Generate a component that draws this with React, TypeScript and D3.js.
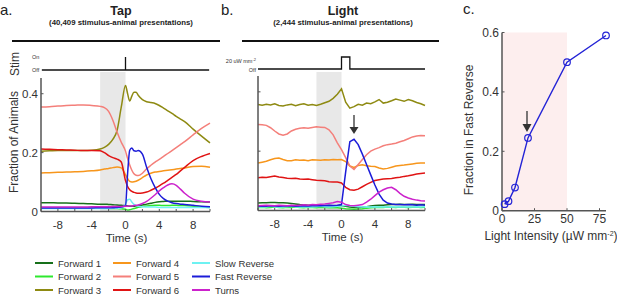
import React from "react";
import * as d3 from "d3";

// ---------- DATA ----------
const seriesNames = ["Forward 1", "Forward 2", "Forward 3", "Forward 4", "Forward 5", "Forward 6", "Slow Reverse", "Fast Reverse", "Turns"];
const seriesColors = ["#17701a", "#2ee82e", "#8e8a12", "#f7961c", "#f47f7a", "#e01414", "#6ef2f2", "#1c1cd8", "#cc22cc"];

const xTicksTime = [-10, -8, -6, -4, -2, 0, 2, 4, 6, 8, 10];
const xLabelsTime = [-8, -4, 0, 4, 8];
const yTicksA = [0, 0.2, 0.4];

// Panel a (Tap)
const tA = [-10, -9, -8, -7, -6, -5, -4, -3, -2.5, -2, -1.5, -1, -0.5, 0, 0.25, 0.5, 0.75, 1, 1.25, 1.5, 2, 2.5, 3, 3.5, 4, 4.5, 5, 5.5, 6, 6.5, 7, 8, 9, 10];
const aFwd1 = [0.03, 0.03, 0.029, 0.029, 0.028, 0.027, 0.026, 0.025, 0.025, 0.024, 0.023, 0.022, 0.021, 0.02, 0.019, 0.018, 0.018, 0.018, 0.019, 0.02, 0.022, 0.025, 0.028, 0.031, 0.033, 0.034, 0.035, 0.035, 0.035, 0.035, 0.035, 0.034, 0.033, 0.032];
const aFwd2 = [0.012, 0.012, 0.012, 0.012, 0.012, 0.012, 0.011, 0.011, 0.011, 0.011, 0.01, 0.01, 0.009, 0.008, 0.005, 0.006, 0.008, 0.01, 0.012, 0.014, 0.017, 0.019, 0.02, 0.021, 0.021, 0.02, 0.02, 0.021, 0.021, 0.02, 0.02, 0.018, 0.015, 0.014];
const aFwd3 = [0.205, 0.206, 0.207, 0.207, 0.207, 0.207, 0.208, 0.212, 0.218, 0.228, 0.245, 0.275, 0.355, 0.428, 0.4, 0.375, 0.392, 0.405, 0.405, 0.395, 0.38, 0.373, 0.37, 0.367, 0.36, 0.351, 0.342, 0.333, 0.323, 0.314, 0.305, 0.28, 0.256, 0.233];
const aFwd4 = [0.131, 0.132, 0.133, 0.134, 0.135, 0.136, 0.138, 0.141, 0.144, 0.146, 0.149, 0.151, 0.148, 0.125, 0.112, 0.102, 0.1, 0.101, 0.103, 0.106, 0.115, 0.124, 0.13, 0.134, 0.136, 0.138, 0.14, 0.142, 0.144, 0.146, 0.148, 0.153, 0.154, 0.15];
const aFwd5 = [0.355, 0.356, 0.358, 0.36, 0.361, 0.362, 0.36, 0.357, 0.353, 0.34, 0.31, 0.27, 0.235, 0.205, 0.18, 0.158, 0.14, 0.128, 0.123, 0.122, 0.13, 0.145, 0.157, 0.168, 0.177, 0.187, 0.197, 0.207, 0.217, 0.227, 0.237, 0.26, 0.282, 0.3];
const aFwd6 = [0.212, 0.211, 0.21, 0.209, 0.208, 0.207, 0.207, 0.206, 0.2, 0.19, 0.183, 0.178, 0.168, 0.105, 0.085, 0.074, 0.068, 0.065, 0.063, 0.062, 0.063, 0.066, 0.072, 0.079, 0.087, 0.096, 0.106, 0.116, 0.126, 0.138, 0.15, 0.173, 0.187, 0.197];
const aSlowRev = [0.01, 0.01, 0.01, 0.01, 0.01, 0.01, 0.01, 0.01, 0.01, 0.01, 0.011, 0.011, 0.012, 0.025, 0.04, 0.042, 0.032, 0.024, 0.02, 0.018, 0.016, 0.015, 0.015, 0.015, 0.014, 0.014, 0.014, 0.014, 0.014, 0.014, 0.014, 0.014, 0.014, 0.014];
const aFastRev = [0.012, 0.012, 0.012, 0.012, 0.012, 0.012, 0.012, 0.013, 0.013, 0.013, 0.013, 0.014, 0.015, 0.02, 0.13, 0.208, 0.216, 0.206, 0.205, 0.207, 0.195, 0.15, 0.112, 0.082, 0.058, 0.044, 0.035, 0.03, 0.027, 0.025, 0.024, 0.021, 0.018, 0.016];
const aTurns = [0.015, 0.015, 0.015, 0.015, 0.015, 0.015, 0.016, 0.016, 0.016, 0.016, 0.017, 0.017, 0.017, 0.018, 0.018, 0.019, 0.019, 0.02, 0.021, 0.022, 0.027, 0.034, 0.045, 0.057, 0.07, 0.081, 0.09, 0.094, 0.089, 0.076, 0.062, 0.042, 0.035, 0.032];

// Panel b (Light)
const tB = [-10, -9.5, -9, -8.5, -8, -7.5, -7, -6.5, -6, -5.5, -5, -4.5, -4, -3.5, -3, -2.5, -2, -1.5, -1, -0.5, 0, 0.5, 1, 1.5, 2, 2.5, 3, 3.5, 4, 4.5, 5, 5.5, 6, 6.5, 7, 7.5, 8, 8.5, 9, 9.5, 10];
const bFwd1 = [0.025, 0.026, 0.026, 0.027, 0.027, 0.026, 0.026, 0.025, 0.024, 0.022, 0.02, 0.019, 0.018, 0.018, 0.017, 0.017, 0.016, 0.017, 0.016, 0.016, 0.016, 0.014, 0.012, 0.01, 0.01, 0.011, 0.013, 0.015, 0.017, 0.018, 0.018, 0.019, 0.02, 0.02, 0.021, 0.02, 0.02, 0.021, 0.02, 0.02, 0.02];
const bFwd2 = [0.01, 0.011, 0.009, 0.01, 0.012, 0.01, 0.009, 0.011, 0.01, 0.012, 0.01, 0.009, 0.011, 0.01, 0.009, 0.011, 0.01, 0.009, 0.01, 0.009, 0.008, 0.006, 0.005, 0.004, 0.005, 0.006, 0.008, 0.009, 0.01, 0.011, 0.01, 0.012, 0.011, 0.01, 0.012, 0.011, 0.01, 0.011, 0.012, 0.01, 0.011];
const bFwd3 = [0.357, 0.355, 0.358, 0.356, 0.36, 0.354, 0.352, 0.356, 0.358, 0.353, 0.357, 0.36, 0.355, 0.357, 0.354, 0.358, 0.363, 0.368, 0.378, 0.392, 0.41, 0.365, 0.345, 0.35, 0.358, 0.355, 0.362, 0.36, 0.366, 0.374, 0.362, 0.365, 0.37, 0.376, 0.372, 0.368, 0.374, 0.37, 0.364, 0.36, 0.354];
const bFwd4 = [0.16, 0.163, 0.166, 0.171, 0.175, 0.177, 0.172, 0.168, 0.168, 0.171, 0.169, 0.17, 0.168, 0.171, 0.17, 0.169, 0.171, 0.17, 0.172, 0.171, 0.172, 0.165, 0.15, 0.145, 0.152, 0.154, 0.151, 0.149, 0.148, 0.143, 0.14, 0.142, 0.146, 0.15, 0.152, 0.153, 0.155, 0.157, 0.159, 0.16, 0.16];
const bFwd5 = [0.29, 0.289, 0.287, 0.279, 0.268, 0.258, 0.254, 0.258, 0.268, 0.274, 0.277, 0.279, 0.277, 0.28, 0.282, 0.281, 0.28, 0.272, 0.255, 0.228, 0.205, 0.178, 0.15, 0.138, 0.155, 0.172, 0.188, 0.2, 0.207, 0.212, 0.218, 0.222, 0.224, 0.227, 0.232, 0.236, 0.242, 0.248, 0.251, 0.253, 0.252];
const bFwd6 = [0.11, 0.112, 0.111, 0.114, 0.116, 0.113, 0.111, 0.109, 0.108, 0.109, 0.106, 0.105, 0.106, 0.104, 0.102, 0.101, 0.1, 0.097, 0.096, 0.096, 0.093, 0.078, 0.07, 0.068, 0.072, 0.08, 0.088, 0.095, 0.101, 0.104, 0.106, 0.107, 0.108, 0.11, 0.112, 0.115, 0.117, 0.12, 0.123, 0.125, 0.126];
const bSlowRev = [0.012, 0.013, 0.012, 0.014, 0.012, 0.013, 0.012, 0.013, 0.014, 0.012, 0.013, 0.012, 0.013, 0.012, 0.013, 0.014, 0.013, 0.012, 0.013, 0.014, 0.015, 0.018, 0.016, 0.014, 0.013, 0.012, 0.013, 0.012, 0.013, 0.012, 0.013, 0.012, 0.013, 0.012, 0.013, 0.012, 0.013, 0.012, 0.013, 0.012, 0.013];
const bFastRev = [0.014, 0.015, 0.014, 0.016, 0.015, 0.014, 0.015, 0.016, 0.015, 0.014, 0.015, 0.016, 0.015, 0.016, 0.017, 0.016, 0.017, 0.018, 0.017, 0.018, 0.02, 0.13, 0.232, 0.24, 0.222, 0.19, 0.155, 0.12, 0.086, 0.055, 0.035, 0.025, 0.022, 0.02, 0.02, 0.019, 0.02, 0.019, 0.018, 0.019, 0.018];
const bTurns = [0.016, 0.017, 0.018, 0.017, 0.016, 0.018, 0.017, 0.016, 0.018, 0.017, 0.018, 0.019, 0.018, 0.02, 0.019, 0.021, 0.022, 0.024, 0.026, 0.03, 0.028, 0.02, 0.017, 0.016, 0.018, 0.02, 0.028, 0.038, 0.05, 0.062, 0.07, 0.076, 0.078, 0.07, 0.058, 0.048, 0.042, 0.038, 0.035, 0.033, 0.032];

// Panel c
const cIntensity = [2, 5, 10, 20, 50, 80];
const cFastRev = [0.022, 0.032, 0.078, 0.245, 0.5, 0.59];
const cXTicks = [0, 25, 50, 75];
const cYTicks = [0, 0.2, 0.4, 0.6];

const seriesA = [aFwd1, aFwd2, aFwd3, aFwd4, aFwd5, aFwd6, aSlowRev, aFastRev, aTurns];
const seriesB = [bFwd1, bFwd2, bFwd3, bFwd4, bFwd5, bFwd6, bSlowRev, bFastRev, bTurns];

const FONT = "'Liberation Sans', Arial, sans-serif";
const AXIS = "#555";
const TXT = "#333";

function TimePanel({ x0, x1, y0, yTop, times, series, curve, yLabels }) {
  const x = d3.scaleLinear().domain([-10, 10]).range([x0, x1]);
  const y = d3.scaleLinear().domain([0, 0.45]).range([y0, yTop]);
  const line = d3.line().x((d) => x(d[0])).y((d) => y(d[1])).curve(curve);
  return (
    <g>
      <rect x={x(-3)} y={72} width={x(0) - x(-3)} height={y0 - 72} fill="#e8e8e8" />
      {series.map((s, i) => (
        <path key={i} d={line(times.map((t, j) => [t, s[j]]))} fill="none" stroke={seriesColors[i]} strokeWidth={1.5} />
      ))}
      <line x1={x0} x2={x0} y1={yTop - 1} y2={y0} stroke={AXIS} strokeWidth={1.5} />
      <line x1={x0} x2={x1} y1={y0} y2={y0} stroke={AXIS} strokeWidth={1.5} />
      {xTicksTime.map((t) => (
        <line key={t} x1={x(t)} x2={x(t)} y1={y0} y2={y0 - 2.5} stroke={AXIS} strokeWidth={1} />
      ))}
      {yTicksA.map((v) => (
        <line key={v} x1={x0} x2={x0 + 2.5} y1={y(v)} y2={y(v)} stroke={AXIS} strokeWidth={1} />
      ))}
      {xLabelsTime.map((t) => (
        <text key={t} x={x(t)} y={y0 + 17} textAnchor="middle" fontSize={11.5} fill={TXT}>{t}</text>
      ))}
      {yLabels && yTicksA.map((v) => (
        <text key={v} x={x0 - 3} y={y(v) + 4} textAnchor="end" fontSize={11.5} fill={TXT}>{v === 0 ? "0" : v.toFixed(1)}</text>
      ))}
      <text x={(x0 + x1) / 2 + 1} y={y0 + 30} textAnchor="middle" fontSize={11.5} fill={TXT}>Time (s)</text>
    </g>
  );
}

export default function App() {
  const xa = d3.scaleLinear().domain([-10, 10]).range([41, 210]);
  const xb = d3.scaleLinear().domain([-10, 10]).range([258, 425]);
  const cx = d3.scaleLinear().domain([0, 80]).range([502, 606]);
  const cy = d3.scaleLinear().domain([0, 0.6]).range([210.7, 32.5]);
  const cLine = d3.line().x((d) => cx(d[0])).y((d) => cy(d[1]));
  const cPts = cIntensity.map((v, i) => [v, cFastRev[i]]);
  const legendCols = [35, 113, 192];
  const legendRows = [263, 276.5, 290];

  return (
    <svg width={617} height={294} style={{ position: "absolute", left: 0, top: 0, background: "#fff" }} fontFamily={FONT}>
      {/* Panel labels and titles */}
      <text x={0} y={15} fontSize={15} fill="#222">a.</text>
      <text x={221} y={15} fontSize={15} fill="#222">b.</text>
      <text x={463} y={14} fontSize={15} fill="#222">c.</text>
      <text x={121} y={15} textAnchor="middle" fontSize={12.5} fontWeight="bold" fill="#222">Tap</text>
      <text x={121} y={25} textAnchor="middle" fontSize={7.8} fontWeight="bold" fill="#222">(40,409 stimulus-animal presentations)</text>
      <text x={343} y={15} textAnchor="middle" fontSize={12.5} fontWeight="bold" fill="#222">Light</text>
      <text x={343} y={25} textAnchor="middle" fontSize={7.8} fontWeight="bold" fill="#222">(2,444 stimulus-animal presentations)</text>
      <line x1={12} x2={220} y1={41} y2={41} stroke="#111" strokeWidth={2} />
      <line x1={242} x2={439} y1={41} y2={41} stroke="#111" strokeWidth={2} />

      {/* Stim traces */}
      <text x={19} y={64} textAnchor="middle" fontSize={12} fill={TXT} transform="rotate(-90 19 64)">Stim</text>
      <text x={32} y={59} fontSize={5.5} fill={TXT}>On</text>
      <text x={32} y={72} fontSize={5.5} fill={TXT}>Off</text>
      <path d={`M${xa(-9.9)},70 H${xa(0)} V57 M${xa(0)},70 H${xa(9.9)}`} fill="none" stroke="#111" strokeWidth={1.3} />
      <text x={256} y={63} textAnchor="end" fontSize={5.5} fill={TXT}>20 uW mm<tspan dy={-2} fontSize={4}>-2</tspan></text>
      <text x={256} y={71.5} textAnchor="end" fontSize={5.5} fill={TXT}>Off</text>
      <path d={`M${xb(-10)},69 H${xb(0)} V57 H${xb(1)} V69 H${xb(10)}`} fill="none" stroke="#111" strokeWidth={1.3} />

      {/* Panel a */}
      <TimePanel x0={41} x1={210} y0={211.5} yTop={79} times={tA} series={seriesA} curve={d3.curveMonotoneX} yLabels={true} />
      <text x={18} y={142} textAnchor="middle" fontSize={12} fill={TXT} transform="rotate(-90 18 142)">Fraction of Animals</text>

      {/* Panel b */}
      <TimePanel x0={258} x1={425} y0={210.5} yTop={77} times={tB} series={seriesB} curve={d3.curveLinear} yLabels={false} />
      <line x1={354} x2={354} y1={115} y2={128} stroke="#333" strokeWidth={1.3} />
      <path d="M349.5,127 L358.5,127 L354,134 Z" fill="#333" />

      {/* Panel c */}
      <rect x={cx(0)} y={cy(0.6)} width={cx(50) - cx(0)} height={cy(0) - cy(0.6)} fill="#fdeeee" />
      <line x1={cx(0)} x2={cx(0)} y1={cy(0.6)} y2={cy(0)} stroke={AXIS} strokeWidth={1.5} />
      <line x1={cx(0)} x2={cx(80)} y1={cy(0)} y2={cy(0)} stroke={AXIS} strokeWidth={1.5} />
      {cYTicks.map((v) => (
        <g key={v}>
          <line x1={cx(0)} x2={cx(0) + 2.5} y1={cy(v)} y2={cy(v)} stroke={AXIS} />
          <text x={cx(0) - 3} y={cy(v) + 4.5} textAnchor="end" fontSize={12} fill={TXT}>{v === 0 ? "0" : v.toFixed(1)}</text>
        </g>
      ))}
      {cXTicks.map((v) => (
        <g key={v}>
          <line x1={cx(v)} x2={cx(v)} y1={cy(0)} y2={cy(0) - 2.5} stroke={AXIS} />
          <text x={cx(v)} y={cy(0) + 12} textAnchor="middle" fontSize={12} fill={TXT}>{v}</text>
        </g>
      ))}
      <path d={cLine(cPts)} fill="none" stroke="#2323d6" strokeWidth={1.4} />
      {cPts.map((p, i) => (
        <circle key={i} cx={cx(p[0])} cy={cy(p[1])} r={3.3} fill="none" stroke="#2323d6" strokeWidth={1.2} />
      ))}
      <line x1={527} x2={527} y1={111} y2={125} stroke="#333" strokeWidth={1.3} />
      <path d="M522.5,124 L531.5,124 L527,132 Z" fill="#333" />
      <text x={473} y={130} textAnchor="middle" fontSize={12} fill={TXT} transform="rotate(-90 473 130)">Fraction in Fast Reverse</text>
      <text x={551} y={240} textAnchor="middle" fontSize={12} fill={TXT}>Light Intensity (µW mm<tspan dy={-4} fontSize={7}>-2</tspan><tspan dy={4}>)</tspan></text>

      {/* Legend */}
      {seriesNames.map((name, i) => {
        const col = Math.floor(i / 3);
        const row = i % 3;
        const lx = legendCols[col];
        const ly = legendRows[row];
        return (
          <g key={name}>
            <line x1={lx} x2={lx + 18} y1={ly} y2={ly} stroke={seriesColors[i]} strokeWidth={2} />
            <text x={lx + 23} y={ly + 3.5} fontSize={9.6} fill={TXT}>{name}</text>
          </g>
        );
      })}
    </svg>
  );
}
